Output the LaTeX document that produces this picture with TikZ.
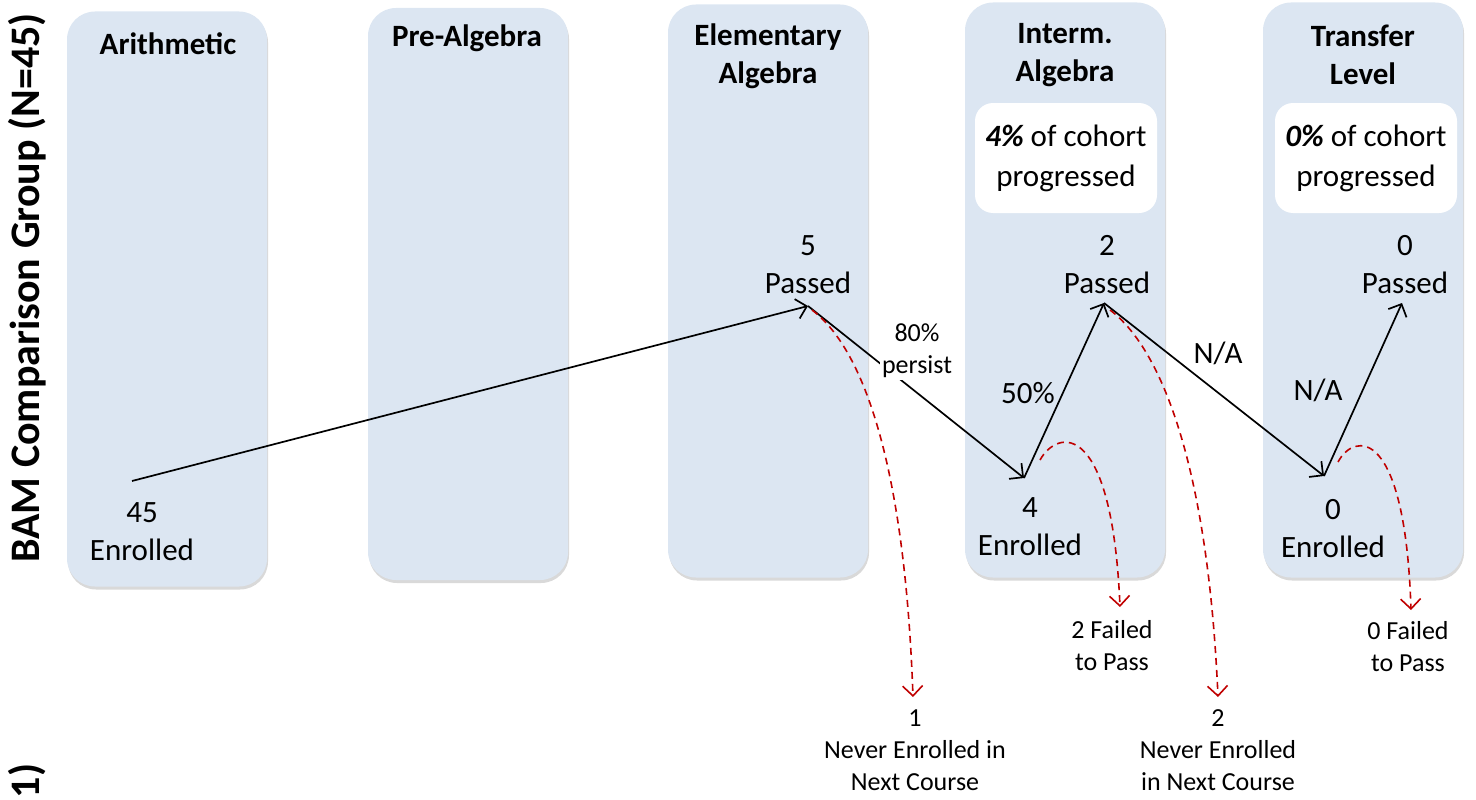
\documentclass[tikz,border=0pt]{standalone}
\usepackage{fontspec}
\setmainfont{Carlito}
\usepackage{tikz}
\usetikzlibrary{arrows.meta,shadows}
\definecolor{colfill}{HTML}{DCE6F2}
\definecolor{failred}{HTML}{C00000}
\tikzset{
  col/.style={fill=colfill, rounded corners=28pt, minimum width=200pt,
    drop shadow={shadow xshift=1pt, shadow yshift=-3pt, opacity=0.3}},
  coltitle/.style={font=\fontsize{31}{38}\selectfont\bfseries, align=center},
  cnt/.style={font=\fontsize{31}{38}\selectfont, align=center},
  lab/.style={font=\fontsize{26}{32}\selectfont, align=center},
  pctbox/.style={fill=white, rounded corners=18pt, minimum width=182pt, minimum height=110pt,
    align=center, font=\fontsize{31}{40}\selectfont},
  flow/.style={line width=1.7pt, -{Straight Barb[length=10pt, width=20pt, line width=1.7pt]}},
  drop/.style={failred, line width=1.6pt, dash pattern=on 7pt off 5pt,
    -{Straight Barb[length=10pt, width=20pt, line width=1.6pt]}},
}
\begin{document}
\begin{tikzpicture}[x=1pt, y=-1pt]
\useasboundingbox (0,0) rectangle (1476,800);
\node[col, minimum height=575pt] (arith) at (167,299) {};
\node[col, minimum height=572pt] (prealg) at (468,294) {};
\node[col, minimum height=573pt] (elem) at (768,291) {};
\node[col, minimum height=575pt] (interm) at (1065,290) {};
\node[col, minimum height=575pt] (trans) at (1363,290) {};
\node[coltitle] (tarith) at (168,44) {Arithmetic};
\node[coltitle] (tprealg) at (467,38) {Pre-Algebra};
\node[coltitle] (telem) at (768,56) {Elementary\\Algebra};
\node[coltitle] (tinterm) at (1065,55) {Interm.\\Algebra};
\node[coltitle] (ttrans) at (1363,55) {Transfer\\Level};
\node[pctbox] (pcti) at (1066,158) {\textbf{\textit{4\%}} of cohort\\progressed};
\node[pctbox] (pctt) at (1366,158) {\textbf{\textit{0\%}} of cohort\\progressed};
\node[rotate=90, font=\fontsize{42}{44}\selectfont\bfseries] (grp) at (27,288) {BAM Comparison Group (N=45)};
\node[rotate=90, font=\fontsize{42}{44}\selectfont\bfseries] (part) at (27,781) {1)};
\node[cnt] (n45) at (142,532) {45\\Enrolled};
\node[cnt] (n5) at (808,265) {5\\Passed};
\node[cnt] (n4) at (1030,527) {4\\Enrolled};
\node[cnt] (n2) at (1107,265) {2\\Passed};
\node[cnt] (n0e) at (1333,529) {0\\Enrolled};
\node[cnt] (n0p) at (1405,265) {0\\Passed};
\coordinate (a45) at (132,481);
\coordinate (a5) at (808,306);
\coordinate (a4) at (1024,478);
\coordinate (a2) at (1104,303);
\coordinate (a0e) at (1324,476);
\coordinate (a0p) at (1402,303);
\draw[flow] (a45) -- (a5);
\draw[flow] (a5) -- (a4);
\draw[flow] (a4) -- (a2);
\draw[flow] (a2) -- (a0e);
\draw[flow] (a0e) -- (a0p);
\node[lab, fill=white, inner sep=2pt] (l80) at (917,351) {80\%\\persist};
\node[cnt] (l50) at (1028,393) {50\%};
\node[cnt] (lna1) at (1218,353) {N/A};
\node[cnt] (lna2) at (1318,390) {N/A};
\node[lab] (never1) at (915,750) {1\\Never Enrolled in\\Next Course};
\node[lab] (fail2) at (1112,646) {2 Failed\\to Pass};
\node[lab] (never2) at (1218,750) {2\\Never Enrolled\\in Next Course};
\node[lab] (fail0) at (1408,647) {0 Failed\\to Pass};
\coordinate (d5) at (812,310);
\coordinate (e5) at (913,697);
\coordinate (d4) at (1040,460);
\coordinate (e4) at (1120,607);
\coordinate (d2) at (1110,310);
\coordinate (e2) at (1218,697);
\coordinate (d0) at (1338,462);
\coordinate (e0) at (1411,610);
\draw[drop] (d5) .. controls (865,350) and (905,470) .. (e5);
\draw[drop] (d4) .. controls (1058,428) and (1112,420) .. (e4);
\draw[drop] (d2) .. controls (1163,350) and (1208,470) .. (e2);
\draw[drop] (d0) .. controls (1354,432) and (1405,425) .. (e0);
\end{tikzpicture}
\end{document}
